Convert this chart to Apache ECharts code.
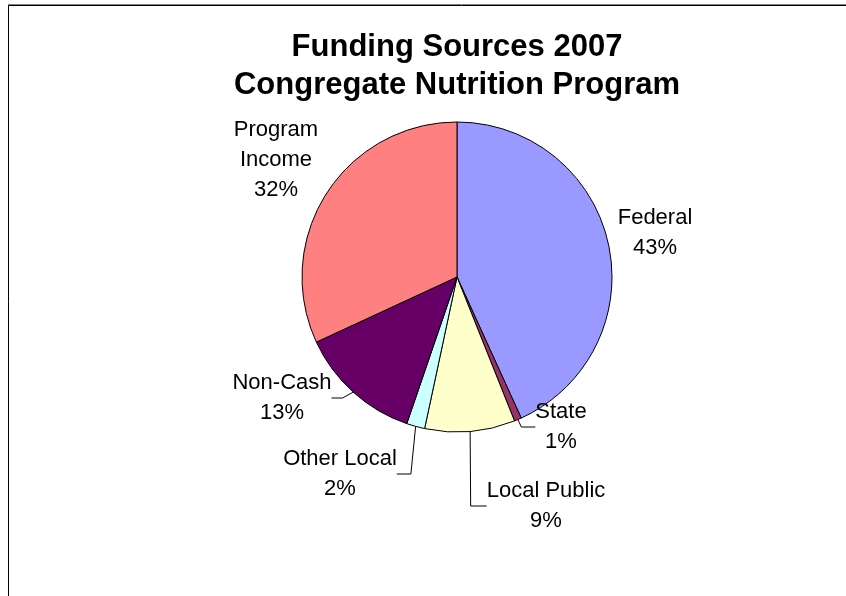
<!DOCTYPE html>
<html>
<head>
<meta charset="utf-8">
<script src="https://cdn.jsdelivr.net/npm/echarts@6/dist/echarts.min.js"></script>
<style>
html,body{margin:0;padding:0;background:#fff;overflow:hidden;width:846px;height:596px;}
#chart{width:914px;height:596px;}
</style>
</head>
<body>
<div id="chart"></div>
<script>
// Data
const titleLines = ['Funding Sources 2007', 'Congregate Nutrition Program'];
const categories = ['Federal', 'State', 'Local Public', 'Other Local', 'Non-Cash', 'Program Income'];
const labelNames = ['Federal', 'State', 'Local Public', 'Other Local', 'Non-Cash', 'Program\nIncome'];
const values = [43.2, 0.75, 9.4, 1.9, 12.85, 31.9];
const colors = ['#9999FF', '#993366', '#FFFFCC', '#CCFFFF', '#660066', '#FF8080'];
const showLeader = [false, true, true, true, true, false];

// Layout (label anchor positions and leader elbow lengths, style only)
const labelPos = [
  [655, 233], [561, 427], [546, 506], [340, 474], [282, 398], [276, 160]
];
const leaderLen2 = [8, 14, 16, 14, 11, 8];

const chart = echarts.init(document.getElementById('chart'), null, {renderer: 'canvas'});
const font = '"Liberation Sans", Arial, sans-serif';

chart.setOption({
  animation: false,
  backgroundColor: '#ffffff',
  title: {
    text: titleLines.join('\n'),
    left: 'center',
    top: 23,
    textStyle: {fontFamily: font, fontSize: 31, fontWeight: 'bold', color: '#000', lineHeight: 38}
  },
  graphic: [{
    type: 'rect',
    shape: {x: 8.5, y: 5.5, width: 1000, height: 800},
    style: {fill: null, stroke: '#000', lineWidth: 1},
    silent: true
  }, {
    type: 'line',
    shape: {x1: 8, y1: 4.5, x2: 1000, y2: 4.5},
    style: {stroke: '#808080', lineWidth: 1},
    silent: true
  }],
  series: [{
    type: 'pie',
    center: [457, 277],
    radius: 155,
    startAngle: 90,
    clockwise: true,
    avoidLabelOverlap: false,
    itemStyle: {borderColor: '#000', borderWidth: 1},
    label: {
      show: true,
      position: 'outside',
      fontFamily: font,
      fontSize: 22,
      lineHeight: 30,
      color: '#000',
      align: 'center',
      formatter: function (p) { return labelNames[p.dataIndex] + '\n' + Math.round(p.value) + '%'; }
    },
    labelLine: {show: true, length: 10, length2: 8, lineStyle: {color: '#000', width: 1}},
    labelLayout: function (p) {
      const pos = labelPos[p.dataIndex];
      return {x: pos[0], y: pos[1], align: 'center', verticalAlign: 'middle'};
    },
    emphasis: {disabled: true},
    data: categories.map(function (c, i) {
      return {
        name: c,
        value: values[i],
        itemStyle: {color: colors[i]},
        labelLine: {show: showLeader[i], length2: leaderLen2[i]}
      };
    })
  }]
});
</script>
</body>
</html>
